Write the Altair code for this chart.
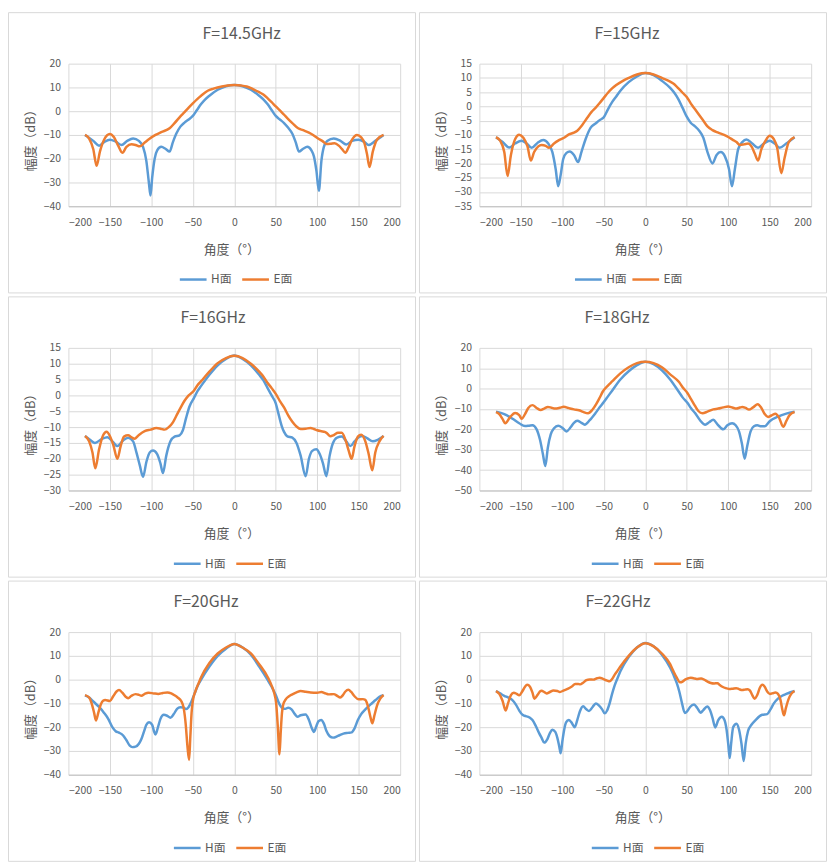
import altair as alt
import pandas as pd

FONT = "Noto Sans CJK SC"
GRID = "#d9d9d9"
TXT = "#595959"
BLUE = "#5B9BD5"
ORANGE = "#ED7D31"

titles = ["F=14.5GHz", "F=15GHz", "F=16GHz", "F=18GHz", "F=20GHz", "F=22GHz"]
series_names = ["H面", "E面"]
x_ticks = [-200, -150, -100, -50, 0, 50, 100, 150, 200]
y_domains = [[-40, 20], [-35, 15], [-30, 15], [-50, 20], [-40, 20], [-40, 20]]
y_steps = [10, 5, 5, 10, 10, 10]

# ---------------- F=14.5GHz ----------------
h145_a = [-180, -170, -163, -157, -150, -143, -136, -129, -122, -115, -110, -106, -103, -101, -99, -96, -93, -88, -83, -78, -74, -70, -65, -60, -55, -50, -45, -40, -35, -30, -20, -10, 0,
          10, 20, 30, 35, 40, 45, 50, 55, 60, 65, 70, 74, 78, 83, 88, 93, 96, 99, 102, 105, 108, 112, 120, 128, 135, 142, 150, 157, 162, 170, 180]
h145_v = [-10, -12.5, -14.5, -13, -12, -12.8, -14.2, -12.5, -11.5, -12.5, -15, -21, -30, -35.5, -28, -20, -16.5, -15, -15.8, -17, -13, -9.5, -6.5, -4.8, -3.5, -2, 0.5, 3, 5, 6.5, 9, 10.5, 11,
          10.5, 9, 6.5, 5, 3, 0.5, -2, -3.5, -5, -7, -9.5, -13, -17, -15.8, -15, -16.5, -19, -25, -33.5, -21, -15, -12.5, -11.5, -12.5, -14, -12.5, -12, -13, -14.2, -12.5, -10]
e145_a = [-180, -175, -170, -166, -162, -157, -150, -145, -140, -135, -130, -124, -119, -114, -108, -103, -95, -88, -78, -72, -65, -60, -55, -50, -45, -40, -32, -25, -15, -8, 0,
          8, 15, 22, 30, 35, 40, 45, 50, 55, 60, 65, 70, 77, 83, 90, 95, 101, 106, 111, 116, 121, 126, 130, 134, 138, 142, 148, 153, 157, 160, 163, 167, 172, 180]
e145_v = [-10, -11.5, -16, -23, -17, -12, -9.6, -11, -14.5, -17.5, -15, -13.9, -14.2, -14.8, -13.2, -11.8, -10, -8.8, -7.2, -5, -2.2, -0.4, 1.5, 3.3, 5, 6.5, 8.6, 9.5, 10.4, 10.8, 11,
          10.8, 10.4, 9.4, 8, 7, 5.5, 3.8, 2, 0.3, -1.5, -3.3, -5, -7.2, -8, -9, -10, -11.5, -12.5, -13.8, -13.7, -13.5, -14.5, -16, -17.5, -15, -12, -10, -11, -13.5, -18, -23.5, -17, -12, -10]

# ---------------- F=15GHz ----------------
h15_a = [-180, -172, -164, -157, -149, -143, -137, -130, -123, -117, -112, -108, -105, -102, -99, -95, -91, -86, -81, -77, -72, -66, -60, -55, -50, -45, -40, -35, -30, -20, -10, 0,
         10, 20, 30, 35, 40, 45, 50, 55, 60, 65, 70, 75, 81, 86, 91, 96, 101, 104.5, 108, 112, 117, 122, 129, 136, 143, 150, 156, 162, 170, 180]
h15_v = [-10.8, -12.5, -14.4, -13, -12, -13, -14.5, -12.8, -11.8, -13, -16, -22, -28, -24, -18.5, -16.3, -15.8, -17, -19.5, -16, -11.5, -7.5, -6, -4.8, -3.8, -1, 1.5, 3.5, 5.5, 8.5, 10.5, 11.7,
         11, 9, 6.5, 4.8, 2.5, -0.5, -3.6, -5.8, -7, -8.5, -11, -16, -20, -17, -16, -17.5, -22, -28, -22, -15, -12.5, -11.6, -13, -14.5, -13, -12, -13, -14.5, -13, -10.8]
e15_a = [-180, -175, -170, -166, -162, -157, -152, -147, -142, -138, -134, -129, -125, -120, -116, -110, -105, -98, -92, -86, -82, -76, -70, -65, -60, -55, -50, -45, -40, -35, -28, -20, -10, 0,
         10, 20, 30, 35, 40, 45, 50, 55, 60, 65, 70, 75, 81, 88, 95, 100.6, 106, 110, 114, 119, 124, 128, 132, 136, 140, 145, 150, 155, 159, 164, 168, 173, 180]
e15_v = [-10.8, -12, -16, -24.4, -17, -11.5, -9.9, -11, -14, -19, -16, -14, -13.5, -13.8, -14.5, -13, -12, -11, -9.8, -9.2, -8.5, -6.5, -4, -2, -0.5, 1.2, 3, 4.8, 6.3, 7.5, 8.8, 10, 11.2, 11.7,
         11.2, 10, 8.7, 7.8, 6.3, 4.8, 3.3, 1, -1, -3, -5, -7, -8.3, -9.2, -10, -10.8, -11.8, -12.5, -13.5, -13.3, -13, -14, -16.5, -19, -15, -12, -10.3, -11.5, -14.5, -23.4, -18, -12.5, -10.8]

# ---------------- F=16GHz ----------------
h16_a = [-180, -174, -168, -160, -153, -147, -141, -134, -128, -122, -118, -114, -110, -106, -102, -98, -93, -89, -86, -82, -77, -72, -66, -62, -58, -54, -49, -44, -40, -30, -20, -10, 0,
         10, 20, 30, 35, 40, 45, 50, 53, 57, 60, 64, 70, 75, 80, 86, 90, 94, 98.8, 103, 107, 111, 115, 119, 124, 129.6, 135, 140, 145, 150, 154.5, 160, 167, 173, 180]
h16_v = [-12.8, -14, -15, -13.8, -13.2, -14.5, -16, -14.2, -13.4, -14.5, -18, -22, -25.7, -21, -18, -17.4, -18.5, -21.5, -24.5, -19, -14.5, -13, -12.6, -11, -7, -3.5, -1, 1.5, 3, 6.5, 9.5, 11.5, 12.6,
         11.5, 9.5, 6.5, 4.8, 2.4, 0, -2.5, -5.5, -9.5, -11.5, -12.9, -13.3, -15, -19, -25.5, -20, -17.5, -17, -18.5, -21.5, -25.5, -19, -15, -13.3, -13, -14.5, -16, -14.5, -13.2, -12.8, -13.5, -14.5, -14, -12.8]
e16_a = [-180, -175, -171, -167.6, -163, -158, -154, -150, -146, -141, -137, -133, -128, -124, -120.5, -115, -108, -101, -94, -89, -84, -79, -74, -70, -65, -60, -55, -49, -45, -40, -30, -20, -10, 0,
         10, 20, 30, 35, 40, 45, 50, 55, 60.5, 65, 70, 75, 80, 86, 92, 96, 100, 105, 109, 112, 115.8, 120, 125, 129.6, 134, 138, 141.5, 145, 149, 153, 158, 162, 166.4, 170, 175, 180]
e16_v = [-12.8, -14.5, -18, -23, -17, -12.5, -11.5, -12.8, -15.5, -20, -16, -13, -12.6, -13.2, -13.7, -12.5, -11.3, -10.8, -10.3, -10.5, -10.8, -10, -8.5, -6.5, -4, -1.7, 0, 1.4, 3, 4.5, 7.5, 10.2, 11.8, 12.5,
         11.8, 10, 7.5, 6, 4, 2.3, 0.5, -1.8, -4, -6.3, -8.3, -9.8, -10.6, -10.5, -10.3, -10.6, -11, -11.3, -11.5, -12, -12.9, -12.5, -11.8, -11.8, -14, -17.5, -20, -16, -13, -12.4, -14.5, -18.5, -23.6, -18, -14.5, -12.8]

# ---------------- F=18GHz ----------------
h18_a = [-180, -170, -160, -152, -145, -140, -136, -131, -127, -123.5, -120.5, -117.5, -114, -110, -105, -100, -95, -90, -86, -82, -77, -73, -67, -60, -55, -50, -45, -40, -30, -20, -10, 0,
         10, 20, 30, 40, 45, 51, 55, 60, 66, 72.3, 77, 82, 87, 94, 99, 104.7, 109, 113, 116.5, 119.8, 123, 127, 131, 135, 140, 144, 150, 160, 170, 180]
h18_v = [-11.3, -12.5, -14.8, -17, -18.4, -18.2, -18, -20, -25, -32, -38, -29, -22.5, -19.5, -18.2, -19.2, -21, -19, -16.8, -15.8, -16.8, -17.7, -15.5, -12, -9.2, -6.6, -3.8, -1, 4.5, 8.5, 11.5, 13.2,
         12, 9, 4.5, -1.3, -4.3, -7.1, -9.5, -12, -15.5, -17.7, -16.5, -15.3, -17.5, -20, -18, -17, -18, -21, -27, -34.4, -28, -21, -18.5, -18, -18.5, -18.5, -16, -13.8, -12.3, -11.3]
e18_a = [-180, -176, -172, -168.8, -163, -157, -152, -149, -145, -141, -136, -131, -126, -122, -117.4, -113, -108.7, -103, -98.4, -92, -86, -80, -75, -69, -64, -59, -55, -51, -45, -40, -30, -20, -10, 0,
         10, 20, 30, 40.7, 45, 51, 55, 60, 64, 69, 75, 82, 88, 94, 100, 105, 110, 114, 117, 121, 125, 130, 135.6, 140, 144, 148, 152, 157, 161, 166.4, 170, 174, 180]
e18_v = [-11.5, -12.5, -15, -17, -14, -12, -13, -14.8, -12.5, -9.5, -8.1, -9.5, -10.5, -9.8, -9, -9.4, -9.8, -9.4, -8.9, -9.6, -10.2, -10.6, -11.4, -12.1, -10.5, -7.5, -4.5, -1.3, 1.5, 3.5, 7.5, 10.5, 12.5, 13.2,
         12.5, 10.5, 7, 3.2, 0.7, -2.3, -5, -8.5, -11, -12.1, -11.3, -10.2, -9.8, -9.2, -8.8, -9.3, -9.8, -9.3, -9, -9.5, -10.3, -9.2, -7.7, -9.5, -12.5, -13.9, -13.2, -12.3, -14, -18.7, -16, -13, -11.5]

# ---------------- F=20GHz ----------------
h20_a = [-180, -175, -170, -163, -157, -152, -147, -143, -139, -134, -130, -126, -123, -119, -115, -112, -109, -106, -102.8, -99, -97, -95, -92, -89, -85, -81, -77, -73, -69, -65, -61, -58, -55, -52, -48, -44, -40, -30, -20, -10, 0,
         10, 20, 30, 40, 45, 50, 54, 58, 61.6, 65, 69, 73, 76.3, 80, 86, 90, 93, 96, 99, 101.5, 104.7, 108, 111, 115, 119, 125, 131.6, 137, 141.5, 145, 149, 153, 158, 164, 170, 175, 180]
h20_v = [-6.6, -7.5, -9.2, -11.5, -14, -16.5, -20, -21.7, -22.3, -23.5, -25.5, -27.8, -28.4, -28.2, -27, -25, -22, -19, -17.9, -19, -21.5, -23.1, -20, -16.5, -14.8, -15.2, -16, -14.5, -12.3, -11.6, -11.8, -12.4, -11.5, -9.5, -6, -2.5, 0, 5.5, 10, 13, 15,
         13.5, 10.5, 5.5, 0, -3, -6.5, -10, -12, -12.3, -11.8, -12.5, -14.5, -15.6, -15, -14.7, -17, -20, -22, -19.5, -17.5, -17, -18.5, -21.5, -23.8, -24.4, -23.7, -22.7, -22.4, -22.2, -20.5, -17, -14.5, -12.5, -10.5, -8.7, -7.2, -6.5]
e20_a = [-180, -175, -172, -169, -166.8, -164, -161, -158, -155.7, -150, -146, -142, -139, -135, -131, -128, -124, -119, -115, -112, -108, -103.5, -97, -91.7, -86, -80.6, -76, -72, -68, -64, -61, -58.5, -56.5, -54.5, -53, -51.5, -50, -47, -43, -40, -30, -20, -10, 0,
         10, 20, 30, 40.7, 45, 48, 50.5, 52.5, 54.5, 56, 57.5, 59, 62, 66, 70, 75, 80, 86, 92, 100, 105, 110, 114, 120, 124, 127.7, 131, 134, 137.5, 141, 145, 150, 155, 158, 161, 164, 166.5, 169, 172, 176, 180]
e20_v = [-6.5, -7.5, -10, -14, -17.2, -14, -10.5, -8.8, -8.6, -9, -7, -5, -4.4, -5.5, -7.2, -7.8, -6.8, -6.1, -6.4, -6.8, -6, -5.5, -5.8, -6, -5.6, -5.4, -5.8, -6.6, -7.6, -9, -12, -19, -28, -33.8, -24, -14, -9, -5, -1.5, 1, 7, 11, 13.5, 15,
         13.5, 11, 6.5, 0.8, -2.5, -5.5, -10, -20, -31.4, -22, -14, -10.5, -8.3, -7, -6.2, -5.4, -4.8, -5.1, -5.4, -5.5, -5.2, -5.8, -6.2, -6.1, -6.8, -7.5, -6.5, -5, -4.3, -5.2, -7, -8.3, -8.2, -8.5, -11, -15.5, -18.4, -15, -11, -8, -6.5]

# ---------------- F=22GHz ----------------
h22_a = [-180, -175, -170, -165, -160.5, -156, -152, -148, -145.6, -139.6, -136, -132, -128, -125, -121.9, -118, -115, -112, -108.5, -106, -103.5, -102, -100, -98, -95.5, -92.3, -89, -85, -82, -79, -75, -71, -67.8, -63.5, -59.6, -56, -52, -49, -46, -43, -40, -37, -33, -30, -20, -10, 0,
         10, 20, 30, 34, 38, 41, 44, 47.7, 50.5, 54, 58.8, 62.5, 66.7, 70, 74.6, 78, 81, 84.4, 88, 92.3, 95.5, 98, 100, 101.8, 103.5, 106, 110, 113, 116, 118.7, 121, 124, 128, 133, 141, 147, 151, 155, 160, 165, 170, 175, 180]
h22_v = [-4.8, -5.8, -6.8, -7.6, -8.5, -10.5, -13, -14.8, -15.2, -15.9, -17, -19.5, -22.5, -24.5, -26.5, -25, -22.5, -21.1, -22, -24.5, -28.5, -31, -26, -21.5, -18, -17, -18, -20, -17, -13.5, -11.2, -12.5, -13.2, -11.5, -10, -10.8, -12.5, -14.2, -13, -10, -6, -2.5, 1, 3.5, 9.5, 13.5, 15.4,
         14, 10.5, 5, 2, -1.5, -5, -9.5, -14, -13.3, -11.5, -10.5, -11.8, -13.9, -12.8, -11.3, -12.8, -16, -20.1, -17, -15.6, -17, -21, -27, -33, -27, -20, -18.6, -21, -27, -34.2, -27, -21.5, -19, -17, -14.8, -14.5, -12.5, -10, -8, -6.8, -6, -5.3, -4.8]
e22_a = [-180, -176, -172, -168.4, -165.5, -162, -158.6, -155, -152, -148, -145, -142.4, -139, -136, -133.7, -130, -127, -125, -122, -119, -115, -110.8, -106, -103, -98, -93, -89, -84.4, -81, -78.5, -75, -71, -67, -62.7, -58, -54.8, -51, -46, -43, -40, -37, -33, -30, -20, -10, 0,
         10, 20, 30, 34, 38, 41.8, 45, 48, 52, 54.8, 58, 62, 67.4, 71, 75, 79, 83, 87, 90, 93, 97, 101, 105, 109.7, 113, 116.8, 120, 123.5, 126, 129, 131.8, 135, 138, 141.2, 144, 147, 150.3, 154, 157, 160, 163, 165.5, 167.3, 169.5, 173, 176, 180]
e22_v = [-4.8, -6, -9, -13, -10, -6.5, -5.5, -6, -6.6, -4.8, -3, -2.2, -3, -5.5, -8, -6.5, -5, -4.7, -5.2, -5.8, -5.2, -4.6, -4.8, -5.2, -4.5, -3.8, -3, -1.8, -1.8, -2, -1.3, -0.2, 0.1, 0, 0.6, 0.8, 0.3, -0.4, -0.7, 0.3, 2, 4, 5.5, 10, 13.5, 15.3,
         14, 11, 6.5, 3.5, 0.8, -1.1, -0.8, 0, 0.6, 0.8, 0.6, 0.3, 0.5, 0, -0.8, -1.4, -1.6, -1.5, -2.3, -3, -3.6, -3.9, -3.8, -3.6, -4, -4.4, -4.2, -4, -4.5, -6.5, -8, -6.5, -3.5, -2.2, -3, -5, -6, -5.7, -5.4, -6, -8.5, -13, -15, -12, -8, -6, -4.8]

H_angles = [h145_a, h15_a, h16_a, h18_a, h20_a, h22_a]
H_values = [h145_v, h15_v, h16_v, h18_v, h20_v, h22_v]
E_angles = [e145_a, e15_a, e16_a, e18_a, e20_a, e22_a]
E_values = [e145_v, e15_v, e16_v, e18_v, e20_v, e22_v]

# layout (pixels)
W, H = 412, 284          # whole panel incl. border
L, T = 61, 52            # plot-area offset inside panel
PW, PH = 335, 144        # plot area
title_x = [175, 149, 146, 139, 139, 140]
legend_x = [111, 95, 105, 112, 105, 112]
legend_pad = [5, 0, 5, 5, 5, 5]


def panel(i):
    dh = pd.DataFrame({"angle": H_angles[i], "value": H_values[i], "series": series_names[0]})
    de = pd.DataFrame({"angle": E_angles[i], "value": E_values[i], "series": series_names[1]})
    ymin, ymax = y_domains[i]
    yvals = list(range(ymin, ymax + 1, y_steps[i]))

    xenc = alt.X(
        "angle:Q",
        scale=alt.Scale(domain=[-200, 200], nice=False, zero=False),
        axis=alt.Axis(values=x_ticks, title="角度（°）", titleX=PW / 2 - 3, titleY=43.5,
                      titleBaseline="middle", titleAlign="center", labelPadding=11,
                      domain=True, domainColor="#bfbfbf", ticks=False, tickSize=0),
    )
    yenc = alt.Y(
        "value:Q",
        scale=alt.Scale(domain=[ymin, ymax], nice=False, zero=False),
        axis=alt.Axis(values=yvals, title="幅度（dB）", titleX=-38, titleY=PH / 2 + 2,
                      titleBaseline="middle", titleAlign="center", labelPadding=8,
                      domain=False, ticks=False, tickSize=0),
    )
    color = alt.Color(
        "series:N",
        scale=alt.Scale(domain=series_names, range=[BLUE, ORANGE]),
        legend=alt.Legend(orient="none", legendX=legend_x[i], legendY=203, direction="horizontal",
                          title=None, symbolType="stroke", symbolSize=729, symbolStrokeWidth=2.5,
                          labelFont=FONT, labelFontSize=12, labelColor=TXT, labelOffset=3,
                          columnPadding=legend_pad[i]),
    )
    border = alt.Chart(pd.DataFrame({"k": [0]})).mark_rect(
        fill="white", fillOpacity=0, stroke=GRID, strokeWidth=1
    ).encode(x=alt.value(-L + 0.5), x2=alt.value(W - L - 0.5),
             y=alt.value(-T + 0.5), y2=alt.value(H - T - 0.5))
    line_h = alt.Chart(dh).mark_line(interpolate="monotone", strokeWidth=2.5).encode(
        x=xenc, y=yenc, color=color, order="angle:Q")
    line_e = alt.Chart(de).mark_line(interpolate="monotone", strokeWidth=2.5).encode(
        x=xenc, y=yenc, color=color, order="angle:Q")
    ttl = alt.Chart(pd.DataFrame({"t": [titles[i]]})).mark_text(
        font=FONT, fontSize=16, color=TXT, align="center", baseline="middle"
    ).encode(x=alt.value(title_x[i]), y=alt.value(-30), text="t:N")
    return alt.layer(border, line_h, line_e, ttl).properties(width=PW, height=PH)


chart = alt.concat(*[panel(i) for i in range(6)], columns=2, spacing=3, padding=0).resolve_scale(
    color="independent", x="independent", y="independent"
).configure_view(
    strokeWidth=0
).configure_axis(
    gridColor=GRID, gridWidth=1, labelFont=FONT, titleFont=FONT, labelColor=TXT, titleColor=TXT,
    labelFontSize=10.5, titleFontSize=13, titleFontWeight="normal"
)

chart.save("out.html", embed_options={"renderer": "svg", "actions": False})
